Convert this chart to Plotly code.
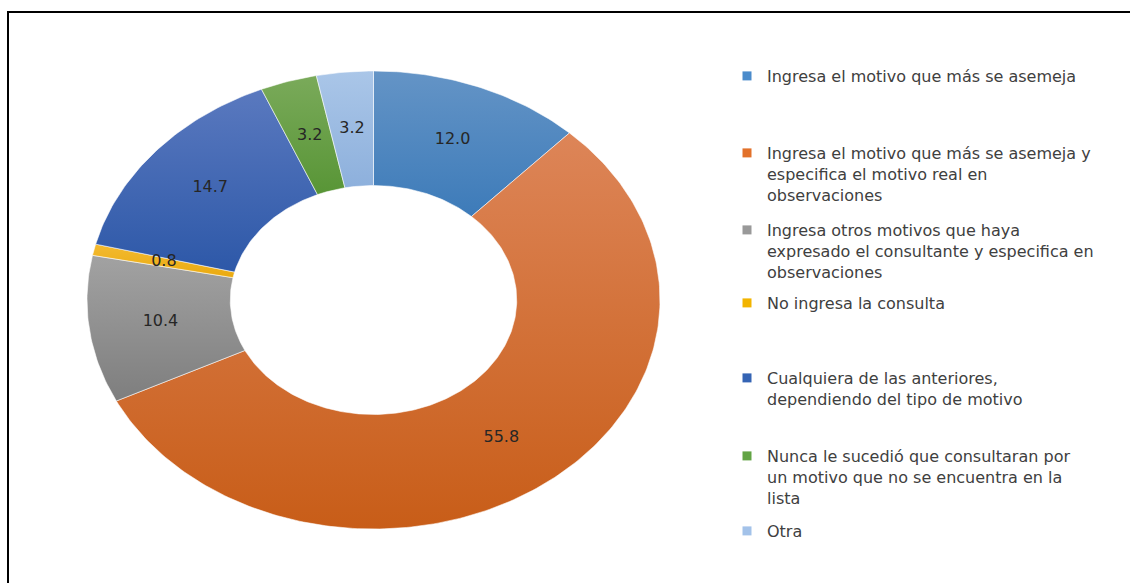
import numpy as np
import plotly.graph_objects as go

# --- data -------------------------------------------------------------
categories = [
    "Ingresa el motivo que más se asemeja",
    "Ingresa el motivo que más se asemeja y<br>especifica el motivo real en<br>observaciones",
    "Ingresa otros motivos que haya<br>expresado el consultante y especifica en<br>observaciones",
    "No ingresa la consulta",
    "Cualquiera de las anteriores,<br>dependiendo del tipo de motivo",
    "Nunca le sucedió que consultaran por<br>un motivo que no se encuentra en la<br>lista",
    "Otra",
]
values = [12.0, 55.8, 10.4, 0.8, 14.7, 3.2, 3.2]

# slice shading (light top -> darker bottom) and legend swatches
top_colors = ["#6494C6", "#DD8558", "#A2A2A2", "#F3BA30", "#5A79BF", "#7AAA5A", "#AAC6E8"]
bottom_colors = ["#3D7BB9", "#C85D18", "#7E7E7E", "#EAAA10", "#2D58A8", "#589536", "#8DB0DC"]
legend_colors = ["#4A8BCB", "#E2712A", "#999999", "#F2B400", "#3564B4", "#62A444", "#A3C2E9"]

HOLE = 0.5
LABEL_R = 0.75
FONT = "DejaVu Sans"

fig = go.Figure()

total = sum(values)
cum = np.concatenate([[0.0], np.cumsum(values)]) / total

# donut slices, clockwise from 12 o'clock
for i, v in enumerate(values):
    t0, t1 = cum[i], cum[i + 1]
    n = max(3, int(np.ceil((t1 - t0) * 400)))
    th = 2 * np.pi * np.linspace(t0, t1, n)
    xs = np.concatenate([np.sin(th), HOLE * np.sin(th[::-1])])
    ys = np.concatenate([np.cos(th), HOLE * np.cos(th[::-1])])
    xs = np.append(xs, xs[0])
    ys = np.append(ys, ys[0])
    fig.add_trace(go.Scatter(
        x=xs, y=ys, mode="lines", fill="toself",
        line=dict(color="rgba(255,255,255,0.7)", width=0.8),
        fillgradient=dict(type="vertical",
                          colorscale=[[0, bottom_colors[i]], [1, top_colors[i]]]),
        hoverinfo="skip", showlegend=False,
    ))

# value labels at the middle of each ring segment
mid = (cum[:-1] + cum[1:]) / 2 * 2 * np.pi
fig.add_trace(go.Scatter(
    x=LABEL_R * np.sin(mid), y=LABEL_R * np.cos(mid),
    mode="text", text=[f"{v:.1f}" for v in values],
    textposition="middle center",
    textfont=dict(family=FONT, size=16, color="#262626"),
    hoverinfo="skip", showlegend=False,
))

# legend entries, one legend box per entry
legend_tops = [71, 148, 225, 298, 373, 451, 526]
legend_layouts = {}
for i, name in enumerate(categories):
    key = "legend" if i == 0 else f"legend{i + 1}"
    fig.add_trace(go.Scatter(
        x=[None], y=[None], mode="markers", name=name,
        marker=dict(symbol="square", size=9, color=legend_colors[i]),
        legend=key, showlegend=True,
    ))
    legend_layouts[key] = dict(
        x=(767 - 40) / 1130, xanchor="left",
        y=1 - (legend_tops[i] - 12) / 583, yanchor="top",
        valign="top", bgcolor="rgba(0,0,0,0)", borderwidth=0,
        font=dict(family=FONT, size=16, color="#404040"),
        itemclick=False, itemdoubleclick=False,
    )

fig.update_layout(
    width=1130, height=583,
    margin=dict(l=0, r=0, t=0, b=0),
    paper_bgcolor="white", plot_bgcolor="white",
    xaxis=dict(domain=[87 / 1130, 660 / 1130], range=[-1, 1], visible=False, fixedrange=True),
    yaxis=dict(domain=[1 - 529 / 583, 1 - 71 / 583], range=[-1, 1], visible=False, fixedrange=True),
    shapes=[dict(type="rect", xref="paper", yref="paper",
                 x0=8 / 1130, x1=1.05, y0=-0.05, y1=1 - 12 / 583,
                 line=dict(color="black", width=2), layer="above")],
    **legend_layouts,
)

fig.write_html("out.html")
